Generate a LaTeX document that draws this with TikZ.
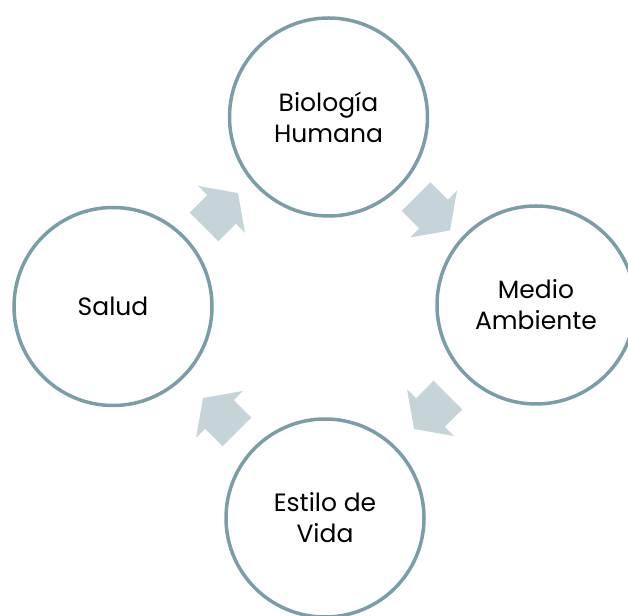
\documentclass[tikz,border=0pt]{standalone}
\usepackage{fontspec}
\setmainfont{Poppins}
\usetikzlibrary{shapes.arrows}
\definecolor{ringcol}{RGB}{121,158,168}
\definecolor{arrowcol}{RGB}{196,212,217}
\begin{document}
\begin{tikzpicture}[x=1pt,y=1pt]
	\def \toprow{498}
	\def \midrow{308.5}
	\def \botrow{97}
	\tikzstyle{c-node}=[circle,draw=ringcol,line width=3.5pt,minimum size=198pt,inner sep=2pt,align=center,font=\fontsize{25}{31}\selectfont]
	\tikzstyle{a-node}=[single arrow,fill=arrowcol,draw=none,inner xsep=0pt,inner ysep=20pt,minimum height=48pt,minimum width=66pt,single arrow head extend=13pt,single arrow tip angle=110]
	\useasboundingbox (0,0) rectangle (628,615);
	
	% cycle stages
	\node[c-node] 	(bio)	at (328.5,\toprow)	{Biología\\Humana};
	\node[c-node] 	(medio)	at (536,310)		{Medio\\Ambiente};
	\node[c-node] 	(estilo)	at (325,\botrow)	{Estilo de\\Vida};
	\node[c-node] 	(salud)	at (113,\midrow)	{Salud};
	
	% block arrows
	\node[a-node,rotate=45] 	(a-sb)	at (216,400)	{};
	\node[a-node,rotate=-45] 	(a-bm)	at (428,406.5)	{};
	\node[a-node,rotate=-135] 	(a-me)	at (436,208)	{};
	\node[a-node,rotate=135] 	(a-es)	at (225,195)	{};
\end{tikzpicture}
\end{document}
